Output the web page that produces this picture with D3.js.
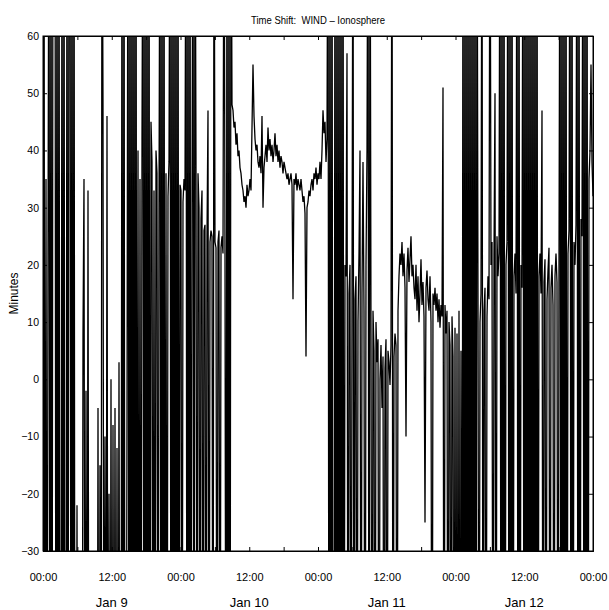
<!DOCTYPE html>
<html>
<head>
<meta charset="utf-8">
<script src="https://cdn.jsdelivr.net/npm/d3@7"></script>
<style>
  body { margin: 0; background: #fff; }
  text { font-family: "Liberation Sans", Arial, Helvetica, sans-serif; fill: #000; }
</style>
</head>
<body>
<script>
// time shift in minutes, one sample ~ every 10.5 min, 99 / -99 = off scale
var jan9 = [28,99,-99,35,-99,22,99,-99,99,-99,99,99,99,-99,99,-99,99,-99,-99,99,
  -99,99,-99,-99,99,-99,99,99,-99,99,-99,99,-99,-99,-22,-99,-99,-99,-99,-99,
  8,35,-99,-2,-99,33,-99,-99,-99,-99,-99,-99,-99,-99,-99,-5,-99,-15,-99,99,
  48,-99,-10,-99,46,-99,-20,-99,0,-99,-8,-99,-5,-99,-12,-99,3,-99,-99,99,
  -99,99,-99,-99,-5,99,-99,99,-99,99,-99,99,-99,99,-99,40,-99,35,-99,42,
  99,-99,99,-99,99,-99,99,-99,45,38,-99,33,-99,40,36,-99,30,99,-99,99,
  -99,99,-99,36,-99,32,38,99,-99,99,-99,99,-99,99,-99,99,-99,34];
var jan10 = [33,-99,31,35,33,99,-99,99,-99,99,-99,30,99,-99,99,38,-99,36,30,-99,
  28,33,-99,26,27,-99,25,47,-99,24,26,25,-99,99,24,23,-99,24,26,-99,
  23,25,22,99,22,-99,99,-99,99,-99,99,48,47,44,45,41,43,39,40,37,
  36,34,33,31,32,30,34,32,33,35,33,44,55,46,42,40,41,38,37,39,
  36,46,30,37,39,41,38,44,40,42,39,41,38,40,43,39,41,38,40,37,
  39,38,36,38,37,36,35,36,34,35,36,34,14,35,34,36,33,35,34,33,
  35,33,31,32,29,4,30,31,33,32,34,35,33,36,35,37,34,36];
var jan11 = [35,38,35,40,47,43,45,38,42,99,-99,99,-99,99,-99,-99,99,-99,99,-99,
  99,-99,99,-99,99,-99,20,18,57,-99,15,20,-99,12,99,-99,14,18,-99,10,
  22,40,-99,15,38,12,-99,20,40,99,-99,99,8,-99,12,5,-99,10,3,7,
  -99,0,6,-5,4,-99,2,7,-99,5,3,-1,6,99,-99,4,8,6,-99,12,
  18,22,20,24,18,22,16,-10,19,23,17,21,25,18,20,16,14,20,12,18,
  10,15,21,13,17,11,-25,16,19,14,12,18,10,-99,15,13,16,12,15,10,
  14,9,13,11,51,-99,13,8,12,-99,10,6,-99,11,4,-99,9];
var jan12 = [-99,8,-99,12,-99,5,-99,99,-99,99,-99,99,-99,99,-99,99,-99,99,-99,99,
  -99,99,14,-99,10,15,99,-99,12,16,-99,11,18,14,99,20,24,-99,22,50,
  -99,25,18,22,99,-99,99,-99,99,-99,20,24,99,-99,99,-99,99,-99,18,22,
  15,99,-99,99,-99,20,16,99,-99,99,-99,99,-99,99,-99,99,-99,99,-99,99,
  -99,99,-99,18,22,15,47,-99,17,21,-99,14,19,23,-99,16,20,13,-99,18,
  22,17,-99,20,99,-99,99,-99,99,-99,99,-99,22,26,99,-99,99,-99,24,20,
  27,99,-99,99,-99,28,25,99,-99,99,-99,99,-99,35,40,55,38,32];

var dayLabels = ["Jan 9", "Jan 10", "Jan 11", "Jan 12"];
var yTickValues = [-30, -20, -10, 0, 10, 20, 30, 40, 50, 60];

var width = 609, height = 610;
var margin = {top: 36, right: 16, bottom: 59, left: 43};
var innerW = width - margin.left - margin.right;
var innerH = height - margin.top - margin.bottom;

var start = Date.UTC(2000, 0, 9);
var end = Date.UTC(2000, 0, 13);
var values = jan9.concat(jan10, jan11, jan12);
var step = (end - start) / (values.length - 1);
var data = values.map(function(v, i) { return {t: new Date(start + i * step), v: v}; });

var x = d3.scaleUtc().domain([new Date(start), new Date(end)]).range([0, innerW]);
var y = d3.scaleLinear().domain([-30, 60]).range([innerH, 0]);

var svg = d3.select("body").append("svg")
    .attr("width", width)
    .attr("height", height);

svg.append("defs").append("clipPath").attr("id", "clip")
  .append("rect").attr("width", innerW).attr("height", innerH);

var g = svg.append("g").attr("transform", "translate(" + margin.left + "," + margin.top + ")");

var line = d3.line()
    .x(function(d) { return x(d.t); })
    .y(function(d) { return y(d.v); });

g.append("path")
    .datum(data)
    .attr("clip-path", "url(#clip)")
    .attr("fill", "none")
    .attr("stroke", "#000")
    .attr("stroke-width", 1.3)
    .attr("d", line);

var sixHours = d3.utcHour.every(6);
var hourFmt = function(d) { return d.getUTCHours() % 12 === 0 ? d3.utcFormat("%H:%M")(d) : ""; };

var xb = g.append("g").attr("transform", "translate(0," + innerH + ")")
    .call(d3.axisBottom(x).ticks(sixHours).tickSize(-4).tickPadding(22).tickFormat(hourFmt));
var xt = g.append("g")
    .call(d3.axisTop(x).ticks(sixHours).tickSize(-4).tickFormat(""));
var yl = g.append("g")
    .call(d3.axisLeft(y).tickValues(yTickValues).tickSize(-4).tickPadding(4));
var yr = g.append("g").attr("transform", "translate(" + innerW + ",0)")
    .call(d3.axisRight(y).tickValues(yTickValues).tickSize(-4).tickFormat(""));

[xb, xt, yl, yr].forEach(function(a) {
  a.selectAll("path.domain").attr("stroke", "#000");
  a.selectAll(".tick line").attr("stroke", "#000");
  a.selectAll("text").style("font-size", "11px").attr("fill", "#000");
});
yl.selectAll("text").style("font-size", "10.5px");

// day names under noon ticks
g.selectAll("text.day")
  .data(dayLabels)
  .enter().append("text")
    .attr("class", "day")
    .attr("x", function(d, i) { return x(new Date(start + (i * 24 + 12) * 3600e3)); })
    .attr("y", innerH + 56)
    .attr("text-anchor", "middle")
    .style("font-size", "13px")
    .text(function(d) { return d; });

g.append("rect")
    .attr("width", innerW).attr("height", innerH)
    .attr("fill", "none").attr("stroke", "#000");

svg.append("text")
    .attr("x", margin.left + innerW / 2)
    .attr("y", 24)
    .attr("text-anchor", "middle")
    .attr("textLength", 134)
    .attr("lengthAdjust", "spacingAndGlyphs")
    .style("font-size", "11px")
    .style("white-space", "pre")
    .text("Time Shift:  WIND \u2013 Ionosphere");

svg.append("text")
    .attr("transform", "translate(18," + (margin.top + innerH / 2) + ") rotate(-90)")
    .attr("text-anchor", "middle")
    .style("font-size", "12px")
    .text("Minutes");
</script>
</body>
</html>
